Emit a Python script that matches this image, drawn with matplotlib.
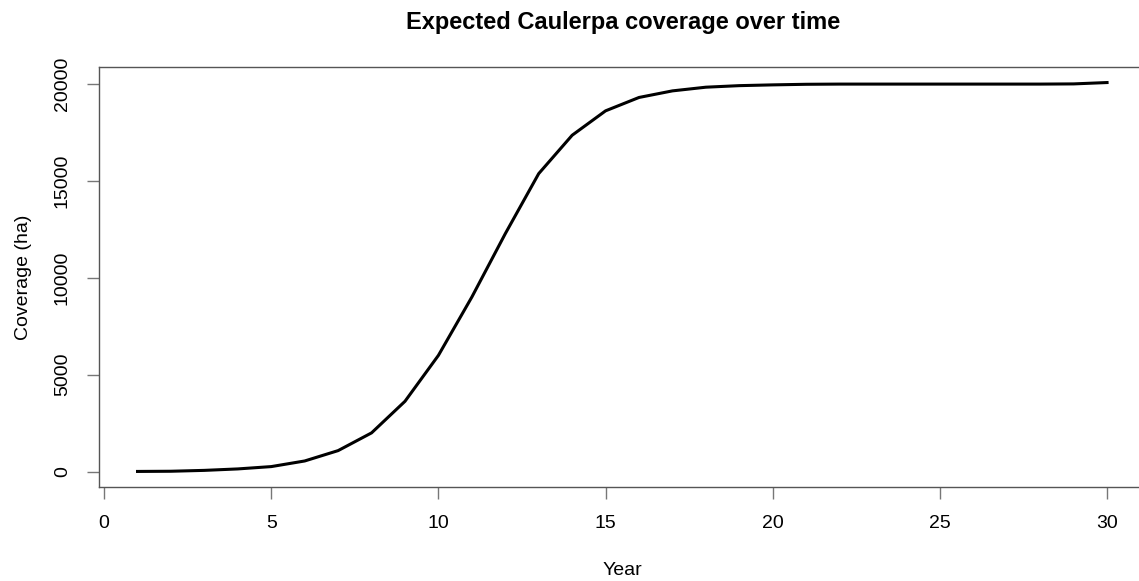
import matplotlib
matplotlib.use("Agg")
import matplotlib.pyplot as plt

plt.rcParams["font.family"] = ["Liberation Sans", "DejaVu Sans"]

# expected Caulerpa coverage (ha) per year
years = list(range(1, 31))
coverage = [10, 20, 65, 140, 260, 550, 1085, 2000, 3630, 6000,
            9010, 12280, 15380, 17360, 18620, 19310, 19650, 19840, 19920, 19960,
            19990, 20000, 20000, 20000, 20000, 20000, 20000, 20000, 20010, 20080]

fig = plt.figure(figsize=(11.39, 5.81), dpi=100)
ax = fig.add_axes([0.0867, 0.1618, 0.9193, 0.7229])

ax.plot(years, coverage, color="black", linewidth=2.2, solid_joinstyle="round")

span_x = max(years) - min(years)
ax.set_xlim(min(years) - 0.04 * span_x, max(years) + 0.04 * span_x)
span_y = max(coverage) - min(coverage)
ax.set_ylim(min(coverage) - 0.04 * span_y, max(coverage) + 0.04 * span_y)

ax.set_xticks([0, 5, 10, 15, 20, 25, 30])
ax.set_yticks([0, 5000, 10000, 15000, 20000])
ax.tick_params(direction="out", length=8.6, width=1.0, color="#777777",
               labelsize=14, labelcolor="black", pad=11.5)
for lbl in ax.get_yticklabels():
    lbl.set_rotation(90)
    lbl.set_va("center")
for sp in ax.spines.values():
    sp.set_color("#555555")
    sp.set_linewidth(1.0)

ax.set_xlabel("Year", fontsize=14, labelpad=22)
ax.set_ylabel("Coverage (ha)", fontsize=14, labelpad=16)
fig.text(0.547, 0.962, "Expected Caulerpa coverage over time",
         ha="center", va="center", fontsize=17, fontweight="bold")

fig.savefig("out.png", dpi=100)
